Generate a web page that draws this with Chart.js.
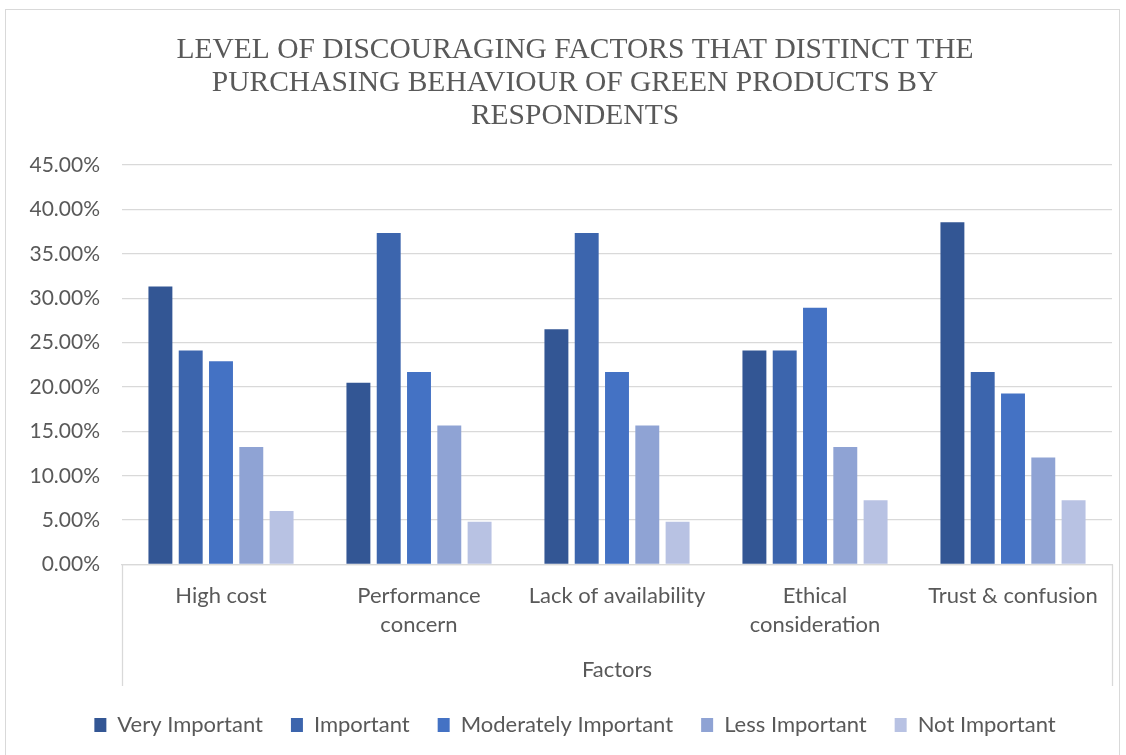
<!DOCTYPE html>
<html>
<head>
<meta charset="utf-8">
<script src="https://cdn.jsdelivr.net/npm/chart.js@4.4.0/dist/chart.umd.min.js"></script>
<style>
  html, body { margin: 0; padding: 0; background: #fff; }
  #frame { position: absolute; left: 5px; top: 9px; width: 1115px; height: 760px; border: 1px solid #d9d9d9; box-sizing: border-box; }
  #wrap { position: absolute; left: 0; top: 0; width: 1126px; height: 755px; }
</style>
</head>
<body>
<div id="frame"></div>
<div id="wrap"><canvas id="chart"></canvas></div>
<script>
const categories = [
  ['High cost'],
  ['Performance', 'concern'],
  ['Lack of availability'],
  ['Ethical', 'consideration'],
  ['Trust & confusion']
];
const seriesNames = ['Very Important', 'Important', 'Moderately Important', 'Less Important', 'Not Important'];
const veryImportant = [31.33, 20.48, 26.51, 24.10, 38.55];
const important = [24.10, 37.35, 37.35, 24.10, 21.69];
const moderatelyImportant = [22.89, 21.69, 21.69, 28.92, 19.28];
const lessImportant = [13.25, 15.66, 15.66, 13.25, 12.05];
const notImportant = [6.02, 4.82, 4.82, 7.23, 7.23];
const yTicks = [0, 5, 10, 15, 20, 25, 30, 35, 40, 45];

const seriesData = [veryImportant, important, moderatelyImportant, lessImportant, notImportant];
const colors = ['#335694', '#3c65ad', '#4472c4', '#8fa3d4', '#b8c2e3'];

const textColor = '#595959';
const gridColor = '#d9d9d9';
const sansFont = 'Lato, "Open Sans", sans-serif';

// vertical lines under the category axis, like Excel's label box
const axisBoxLines = {
  id: 'axisBoxLines',
  afterDraw(chart) {
    const { ctx, chartArea } = chart;
    const bottom = chart.scales.x.bottom;
    ctx.save();
    ctx.strokeStyle = gridColor;
    ctx.lineWidth = 1.3;
    [chartArea.left, chartArea.right].forEach(x => {
      ctx.beginPath();
      ctx.moveTo(Math.round(x) + 0.5, chartArea.bottom);
      ctx.lineTo(Math.round(x) + 0.5, bottom);
      ctx.stroke();
    });
    ctx.restore();
  }
};

const ctx = document.getElementById('chart').getContext('2d');
new Chart(ctx, {
  type: 'bar',
  data: {
    labels: categories,
    datasets: seriesNames.map((name, i) => ({
      label: name,
      data: seriesData[i],
      backgroundColor: colors[i],
      borderWidth: 0,
      categoryPercentage: 0.765,
      barPercentage: 0.79
    }))
  },
  options: {
    responsive: true,
    maintainAspectRatio: false,
    animation: false,
    layout: { padding: { top: 9, left: 24, right: 0, bottom: 9 } },
    plugins: {
      title: {
        display: true,
        text: [
          'LEVEL OF DISCOURAGING FACTORS THAT DISTINCT THE',
          'PURCHASING BEHAVIOUR OF GREEN PRODUCTS BY',
          'RESPONDENTS'
        ],
        color: textColor,
        font: { family: '"Liberation Serif", "Times New Roman", serif', size: 29.5, weight: 'normal', lineHeight: 1.12 },
        padding: { top: 25, bottom: 32 }
      },
      legend: {
        position: 'bottom',
        labels: {
          color: textColor,
          font: { family: sansFont, size: 22 },
          boxWidth: 12,
          boxHeight: 14,
          padding: 28
        }
      },
      tooltip: { enabled: false }
    },
    scales: {
      x: {
        grid: { display: false },
        border: { display: true, color: gridColor, width: 1.3 },
        ticks: {
          color: textColor,
          font: { family: sansFont, size: 22, lineHeight: 1.32 },
          padding: 9,
          maxRotation: 0,
          autoSkip: false
        },
        title: {
          display: true,
          text: 'Factors',
          color: textColor,
          font: { family: sansFont, size: 22 },
          padding: { top: 8, bottom: 3 }
        }
      },
      y: {
        min: 0,
        max: 45,
        afterBuildTicks(scale) {
          scale.ticks = yTicks.map(v => ({ value: v }));
        },
        afterFit(scale) { scale.width = 98; },
        grid: { color: gridColor, lineWidth: 1.3, drawTicks: false },
        border: { display: false },
        ticks: {
          color: textColor,
          font: { family: sansFont, size: 21 },
          padding: 22,
          callback: v => v.toFixed(2) + '%'
        }
      },
      // empty right-hand box, keeps the plot off the right edge
      yRight: {
        position: 'right',
        display: true,
        grid: { display: false, drawTicks: false },
        border: { display: false },
        ticks: { display: false },
        afterFit(scale) { scale.width = 14; }
      }
    }
  },
  plugins: [axisBoxLines]
});
</script>
</body>
</html>
